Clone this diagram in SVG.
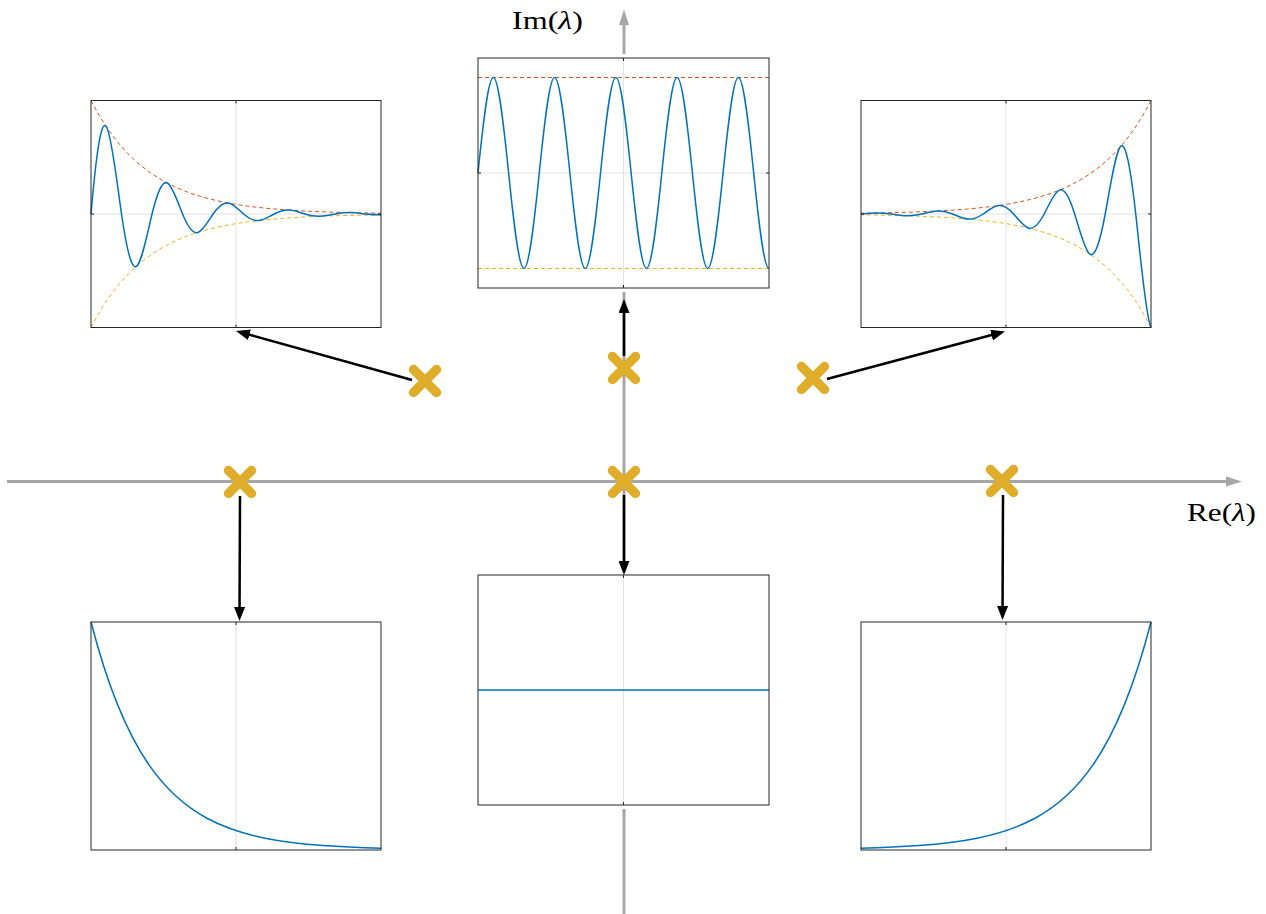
<svg xmlns="http://www.w3.org/2000/svg" width="1266" height="914" viewBox="0 0 1266 914">
<style>
.bg{fill:#fff;stroke:none}
.frame{fill:none;stroke:#262626;stroke-width:1}
.grid{stroke:#e2e2e2;stroke-width:1;fill:none}
.tick{stroke:#262626;stroke-width:1}
.sig{fill:none;stroke:#0072BD;stroke-width:1.5}
.env1{fill:none;stroke:#D95319;stroke-width:1;stroke-dasharray:4 3}
.env2{fill:none;stroke:#EDB120;stroke-width:1;stroke-dasharray:4 3}
.axis{stroke:#a6a6a6;stroke-width:3;fill:none}
.axhead{fill:#a6a6a6}
.arrow{stroke:#000;stroke-width:2.5;fill:none;marker-end:url(#ah)}
.cross{stroke:#e0ad2a;stroke-width:9.5;stroke-linecap:round}
.lbl{font-family:"Liberation Serif","DejaVu Serif",serif;font-size:25px;fill:#000}
</style>
<defs>
<marker id="ah" viewBox="0 0 14 11" markerWidth="14" markerHeight="11" refX="4" refY="5.5" orient="auto" markerUnits="userSpaceOnUse">
<path d="M0,0 L14,5.5 L0,11 z" fill="#000"/>
</marker>
</defs>
<rect x="0" y="0" width="1266" height="914" fill="#fff"/>

<g id="complex-plane">
<line class="axis" x1="7" y1="481.5" x2="1230" y2="481.5"/>
<polygon class="axhead" points="1242,481.5 1226,476.5 1226,486.5"/>
<line class="axis" x1="624" y1="20" x2="624" y2="914"/>
<polygon class="axhead" points="624,9.5 619,25 629,25"/>
<text class="lbl" x="512" y="29" textLength="71" lengthAdjust="spacingAndGlyphs">Im(<tspan font-style="italic">λ</tspan>)</text>
<text class="lbl" x="1187" y="521" textLength="69" lengthAdjust="spacingAndGlyphs">Re(<tspan font-style="italic">λ</tspan>)</text>
</g>

<g id="plot-top-left" transform="translate(0,0.5)">
<rect class="bg" x="87" y="96" width="298" height="235"/>
<line class="grid" x1="236" y1="100" x2="236" y2="327"/>
<line class="grid" x1="91" y1="213.5" x2="381" y2="213.5"/>
<path class="env1" d="M91,100 C111.35,139.27 131.70,159.39 152.05,173.30 C172.40,187.21 192.75,194.33 213.10,199.26 C233.45,204.19 253.81,206.72 274.16,208.46 C294.51,210.20 314.86,211.09 335.21,211.71 C350.47,212.17 365.74,212.47 381,212.68"/>
<path class="env2" d="M91,327 C111.35,287.73 131.70,267.61 152.05,253.70 C172.40,239.79 192.75,232.67 213.10,227.74 C233.45,222.81 253.81,220.28 274.16,218.54 C294.51,216.80 314.86,215.91 335.21,215.29 C350.47,214.83 365.74,214.53 381,214.32"/>
<path class="sig" d="M91,213.5 C96.09,154.07 101.17,118.37 106.26,125.94 C111.35,133.51 116.44,178.13 121.53,213.5 C126.62,248.87 131.70,270.12 136.79,265.61 C141.88,261.10 146.96,234.55 152.05,213.5 C157.14,192.45 162.23,179.81 167.32,182.49 C172.41,185.17 177.49,200.98 182.58,213.5 C187.67,226.02 192.75,233.56 197.84,231.96 C202.93,230.36 208.01,220.96 213.10,213.5 C218.19,206.04 223.28,201.57 228.37,202.52 C233.46,203.47 238.54,209.06 243.63,213.5 C248.72,217.94 253.80,220.61 258.89,220.04 C263.98,219.47 269.07,216.14 274.16,213.5 C279.25,210.86 284.33,209.27 289.42,209.61 C294.51,209.95 299.59,211.93 304.68,213.5 C309.77,215.07 314.86,216.02 319.95,215.82 C325.04,215.62 330.12,214.44 335.21,213.5 C340.30,212.56 345.38,212.00 350.47,212.12 C355.56,212.24 360.64,212.94 365.73,213.5 C370.82,214.06 375.91,214.39 381,214.32"/>
<rect class="frame" x="91" y="100" width="290" height="227"/>
<path class="tick" d="M236,100v3M236,327v-3M91,213.5h3M381,213.5h-3"/>
</g>

<g id="plot-top-center">
<rect class="bg" x="474" y="54" width="299" height="238"/>
<line class="grid" x1="623.5" y1="58" x2="623.5" y2="288"/>
<line class="grid" x1="478" y1="173" x2="769" y2="173"/>
<line class="env1" x1="478" y1="77.5" x2="769" y2="77.5"/>
<line class="env2" x1="478" y1="268.5" x2="769" y2="268.5"/>
<path class="sig" d="M478,173 C483.11,123 488.21,77.5 493.32,77.5 S503.53,123 508.63,173 S518.85,268.5 523.95,268.5 S534.16,223 539.26,173 S549.48,77.5 554.58,77.5 S564.79,123 569.90,173 S580.11,268.5 585.21,268.5 S595.42,223 600.53,173 S610.74,77.5 615.84,77.5 S626.06,123 631.16,173 S641.37,268.5 646.48,268.5 S656.69,223 661.79,173 S672.01,77.5 677.11,77.5 S687.32,123 692.42,173 S702.64,268.5 707.74,268.5 S717.95,223 723.06,173 S733.27,77.5 738.37,77.5 S748.58,123 753.69,173 S763.90,268.5 769,268.5"/>
<rect class="frame" x="478" y="58" width="291" height="230"/>
<path class="tick" d="M623.5,58v3M623.5,288v-3M478,173h3M769,173h-3"/>
</g>

<g id="plot-top-right" transform="translate(0,0.5)">
<rect class="bg" x="857" y="96" width="298" height="235"/>
<line class="grid" x1="1006" y1="100" x2="1006" y2="327"/>
<line class="grid" x1="861" y1="213.5" x2="1151" y2="213.5"/>
<path class="env1" d="M1151,100 C1130.65,139.27 1110.30,159.39 1089.95,173.30 C1069.60,187.21 1049.25,194.33 1028.90,199.26 C1008.55,204.19 988.19,206.72 967.84,208.46 C947.49,210.20 927.14,211.09 906.79,211.71 C891.53,212.17 876.26,212.47 861,212.68"/>
<path class="env2" d="M1151,327 C1130.65,287.73 1110.30,267.61 1089.95,253.70 C1069.60,239.79 1049.25,232.67 1028.90,227.74 C1008.55,222.81 988.19,220.28 967.84,218.54 C947.49,216.80 927.14,215.91 906.79,215.29 C891.53,214.83 876.26,214.53 861,214.32"/>
<path class="sig" d="M1151,327 C1145.91,317.18 1140.83,259.35 1135.74,213.5 C1130.65,167.65 1125.56,140.11 1120.47,145.95 C1115.38,151.79 1110.30,186.21 1105.21,213.5 C1100.12,240.79 1095.04,257.18 1089.95,253.70 C1084.86,250.22 1079.77,229.74 1074.68,213.5 C1069.59,197.26 1064.51,187.51 1059.42,189.58 C1054.33,191.65 1049.25,203.83 1044.16,213.5 C1039.07,223.17 1033.99,228.97 1028.90,227.74 C1023.81,226.51 1018.72,219.25 1013.63,213.5 C1008.54,207.75 1003.46,204.30 998.37,205.03 C993.28,205.76 988.20,210.08 983.11,213.5 C978.02,216.92 972.93,218.98 967.84,218.54 C962.75,218.10 957.67,215.54 952.58,213.5 C947.49,211.46 942.41,210.24 937.32,210.50 C932.23,210.76 927.14,212.29 922.05,213.5 C916.96,214.71 911.88,215.44 906.79,215.29 C901.70,215.14 896.62,214.22 891.53,213.5 C886.44,212.78 881.36,212.35 876.27,212.44 C871.18,212.53 866.09,213.07 861,213.5"/>
<rect class="frame" x="861" y="100" width="290" height="227"/>
<path class="tick" d="M1006,100v3M1006,327v-3M861,213.5h3M1151,213.5h-3"/>
</g>

<g id="plot-bottom-left">
<rect class="bg" x="87" y="618" width="298" height="236"/>
<line class="grid" x1="236" y1="622" x2="236" y2="850"/>
<path class="sig" d="M91,622 C110.33,696.94 129.67,736.97 149,764.93 C168.33,792.89 187.67,807.83 207,818.26 C226.33,828.69 245.67,834.27 265,838.16 C284.33,842.05 303.67,844.13 323,845.58 C342.33,847.03 361.67,847.81 381,848.35"/>
<rect class="frame" x="91" y="622" width="290" height="228"/>
<path class="tick" d="M236,622v3M236,850v-3"/>
</g>

<g id="plot-bottom-center">
<rect class="bg" x="474" y="571" width="299" height="238"/>
<line class="grid" x1="623.5" y1="575" x2="623.5" y2="805"/>
<line class="sig" x1="478" y1="690" x2="769" y2="690"/>
<rect class="frame" x="478" y="575" width="291" height="230"/>
<path class="tick" d="M623.5,575v3M623.5,805v-3"/>
</g>

<g id="plot-bottom-right">
<rect class="bg" x="857" y="618" width="298" height="236"/>
<line class="grid" x1="1006" y1="622" x2="1006" y2="850"/>
<path class="sig" d="M1151,622 C1131.67,696.94 1112.33,736.97 1093,764.93 C1073.67,792.89 1054.33,807.83 1035,818.26 C1015.67,828.69 996.33,834.27 977,838.16 C957.67,842.05 938.33,844.13 919,845.58 C899.67,847.03 880.33,847.81 861,848.35"/>
<rect class="frame" x="861" y="622" width="290" height="228"/>
<path class="tick" d="M1006,622v3M1006,850v-3"/>
</g>

<g id="connectors">
<line class="arrow" x1="412" y1="380" x2="245.63" y2="333.68"/>
<line class="arrow" x1="624" y1="356" x2="624" y2="309"/>
<line class="arrow" x1="827" y1="379" x2="995.34" y2="334.08"/>
<line class="arrow" x1="240" y1="496" x2="239.54" y2="611"/>
<line class="arrow" x1="624" y1="495" x2="624" y2="565"/>
<line class="arrow" x1="1003" y1="495" x2="1002.54" y2="610"/>
</g>

<g id="eigenvalues">
<g id="ev-top-left"><path class="cross" d="M413.5,369.5l23,23M436.5,369.5l-23,23"/></g>
<g id="ev-top-center"><path class="cross" d="M612.5,356.5l23,23M635.5,356.5l-23,23"/></g>
<g id="ev-top-right"><path class="cross" d="M801.5,366.5l23,23M824.5,366.5l-23,23"/></g>
<g id="ev-real-left"><path class="cross" d="M228.5,470.5l23,23M251.5,470.5l-23,23"/></g>
<g id="ev-origin"><path class="cross" d="M612.5,470.5l23,23M635.5,470.5l-23,23"/></g>
<g id="ev-real-right"><path class="cross" d="M990.5,469.5l23,23M1013.5,469.5l-23,23"/></g>
</g>
</svg>
